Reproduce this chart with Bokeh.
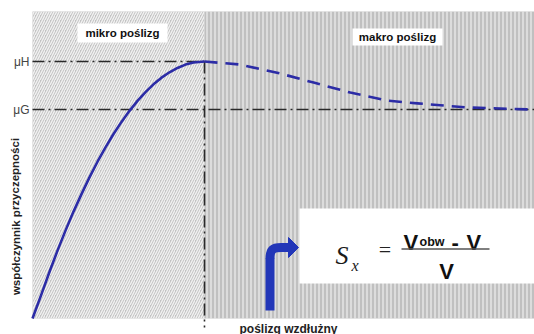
from bokeh.plotting import figure
from bokeh.models import Range1d
from bokeh.core.properties import value
from bokeh.embed import file_html
from bokeh.resources import INLINE

# ---- data (slip in %, friction coefficient relative to muH) ----
slip_micro = [0, 1.79, 3.39, 4.98, 6.57, 8.17, 9.76, 11.35, 12.95, 14.54, 16.14, 17.73,
              19.32, 20.92, 22.51, 24.10, 25.70, 27.29, 28.88, 30.48, 32.07, 34.26]
mu_micro = [0, 0.095, 0.182, 0.264, 0.342, 0.416, 0.484, 0.549, 0.610, 0.666, 0.718, 0.765,
            0.808, 0.847, 0.881, 0.911, 0.937, 0.958, 0.975, 0.988, 0.996, 1.0]
slip_macro = [34.26, 41.4, 49.4, 56.0, 63.3, 70.7, 76.7, 86.7, 100]
mu_macro = [1.0, 0.988, 0.953, 0.918, 0.879, 0.848, 0.837, 0.821, 0.813]
mu_H = 1.0
mu_G = 0.813
slip_boundary = 34.26
slip_max = 100
region_top = 1.195
tick_labels = ["μH", "μG"]
region_labels = ["mikro poślizg", "makro poślizg"]
y_title = "współczynnik przyczepności"
x_title = "poślizg wzdłużny"

W, H = 534, 334
# pixel -> data helpers (frame covers the whole canvas)
def X(px):
    return (px - 32) / 5.02
def Y(py):
    return (318 - py) / 257.0

p = figure(width=W, height=H, output_backend="svg", toolbar_location=None,
           x_axis_type=None, y_axis_type=None,
           x_range=Range1d(X(0), X(W)), y_range=Range1d(Y(H), Y(0)),
           min_border=0, min_border_left=0, min_border_right=0,
           min_border_top=0, min_border_bottom=0)
p.outline_line_color = None
p.grid.visible = False
p.background_fill_color = "white"
p.border_fill_color = "white"

# background regions
p.quad(left=[0], right=[slip_boundary], bottom=[0], top=[region_top],
       fill_color="#c2c2c2", line_color=None,
       hatch_pattern="/", hatch_color="#f2f2f2", hatch_scale=5, hatch_weight=1.4)
p.quad(left=[slip_boundary], right=[slip_max], bottom=[0], top=[region_top],
       fill_color="#c0c0c0", line_color=None,
       hatch_pattern="|", hatch_color="#eeeeee", hatch_scale=4, hatch_weight=1.2)

# reference dash-dot lines
dd = "12 4 2 4"
p.line([0, slip_boundary], [mu_H, mu_H], line_color="#2a2a2a", line_width=1.6, line_dash=dd)
p.line([0, slip_max], [mu_G, mu_G], line_color="#2a2a2a", line_width=1.6, line_dash=dd)
p.line([slip_boundary, slip_boundary], [mu_H, Y(327)], line_color="#2a2a2a", line_width=1.6, line_dash=dd)

# curve
p.line(slip_micro, mu_micro, line_color="#2c2ca6", line_width=2.6, line_join="round")
p.line(slip_macro, mu_macro, line_color="#2c2ca6", line_width=2.6, line_dash="13 8",
       line_join="round")

# region label boxes
p.quad(left=[X(77), X(352)], right=[X(167), X(442)], bottom=[Y(42), Y(45)], top=[Y(23), Y(28)],
       fill_color="white", line_color=None)
p.text(x=[X(122), X(397)], y=[Y(32.5), Y(36.5)], text=region_labels,
       text_font=value("Liberation Sans"), text_font_style="bold", text_font_size="11.5px",
       text_align="center", text_baseline="middle", text_color="#111111")

# mu labels
p.text(x=[X(29), X(29)], y=[mu_H, mu_G], text=tick_labels,
       text_font=value("Liberation Sans"), text_font_size="12px",
       text_align="right", text_baseline="middle", text_color="#444444")

# axis titles
p.text(x=[X(15)], y=[Y(216)], text=[y_title], angle=1.5708,
       text_font=value("Liberation Sans"), text_font_style="bold", text_font_size="11.5px",
       text_align="center", text_baseline="middle", text_color="#222222")
p.text(x=[X(288)], y=[Y(328)], text=[x_title],
       text_font=value("Liberation Sans"), text_font_style="bold", text_font_size="12px",
       text_align="center", text_baseline="middle", text_color="#222222")

# formula box
p.quad(left=[X(299)], right=[X(W)], bottom=[Y(283)], top=[Y(208)],
       fill_color="white", line_color=None)
p.text(x=[X(335)], y=[Y(254.5)], text=["S"], text_font=value("Liberation Serif"),
       text_font_style="italic", text_font_size="26px", text_align="left",
       text_baseline="alphabetic", text_color="#1a1a1a")
p.text(x=[X(351)], y=[Y(265)], text=["x"], text_font=value("Liberation Serif"),
       text_font_style="italic", text_font_size="16px", text_align="left",
       text_baseline="alphabetic", text_color="#1a1a1a")
p.text(x=[X(384.5)], y=[Y(249)], text=["="], text_font=value("Liberation Serif"),
       text_font_size="22px", text_align="center", text_baseline="middle", text_color="#222222")
p.text(x=[X(403)], y=[Y(241.5)], text=["V"], text_font=value("Liberation Sans"),
       text_font_style="bold", text_font_size="22px", text_align="left",
       text_baseline="alphabetic", text_color="#111111")
p.text(x=[X(419)], y=[Y(241.5)], text=["obw"], text_font=value("Liberation Sans"),
       text_font_style="bold", text_font_size="12.5px", text_align="left",
       text_baseline="alphabetic", text_color="#111111")
p.text(x=[X(451)], y=[Y(241.5)], text=["-"], text_font=value("Liberation Sans"),
       text_font_style="bold", text_font_size="22px", text_align="left",
       text_baseline="alphabetic", text_color="#111111")
p.text(x=[X(466)], y=[Y(241.5)], text=["V"], text_font=value("Liberation Sans"),
       text_font_style="bold", text_font_size="22px", text_align="left",
       text_baseline="alphabetic", text_color="#111111")
p.line([X(401), X(489)], [Y(248.5), Y(248.5)], line_color="#555555", line_width=1.5)
p.text(x=[X(446)], y=[Y(271)], text=["V"], text_font=value("Liberation Sans"),
       text_font_style="bold", text_font_size="22px", text_align="center",
       text_baseline="alphabetic", text_color="#111111")

# blue bent arrow
arrow_col = "#2236b8"
p.line([X(269.5), X(269.5)], [Y(310), Y(258)], line_color=arrow_col, line_width=9, line_cap="butt")
p.bezier(x0=[X(269.5)], y0=[Y(258.5)], x1=[X(281)], y1=[Y(247)],
         cx0=[X(269.5)], cy0=[Y(249)], cx1=[X(272)], cy1=[Y(247)],
         line_color=arrow_col, line_width=9)
p.line([X(280), X(289)], [Y(247), Y(247)], line_color=arrow_col, line_width=9, line_cap="butt")
p.patch([X(288), X(298), X(288)], [Y(237), Y(247), Y(257)], fill_color=arrow_col, line_color=arrow_col)

open("out.html", "w").write(file_html(p, INLINE))
